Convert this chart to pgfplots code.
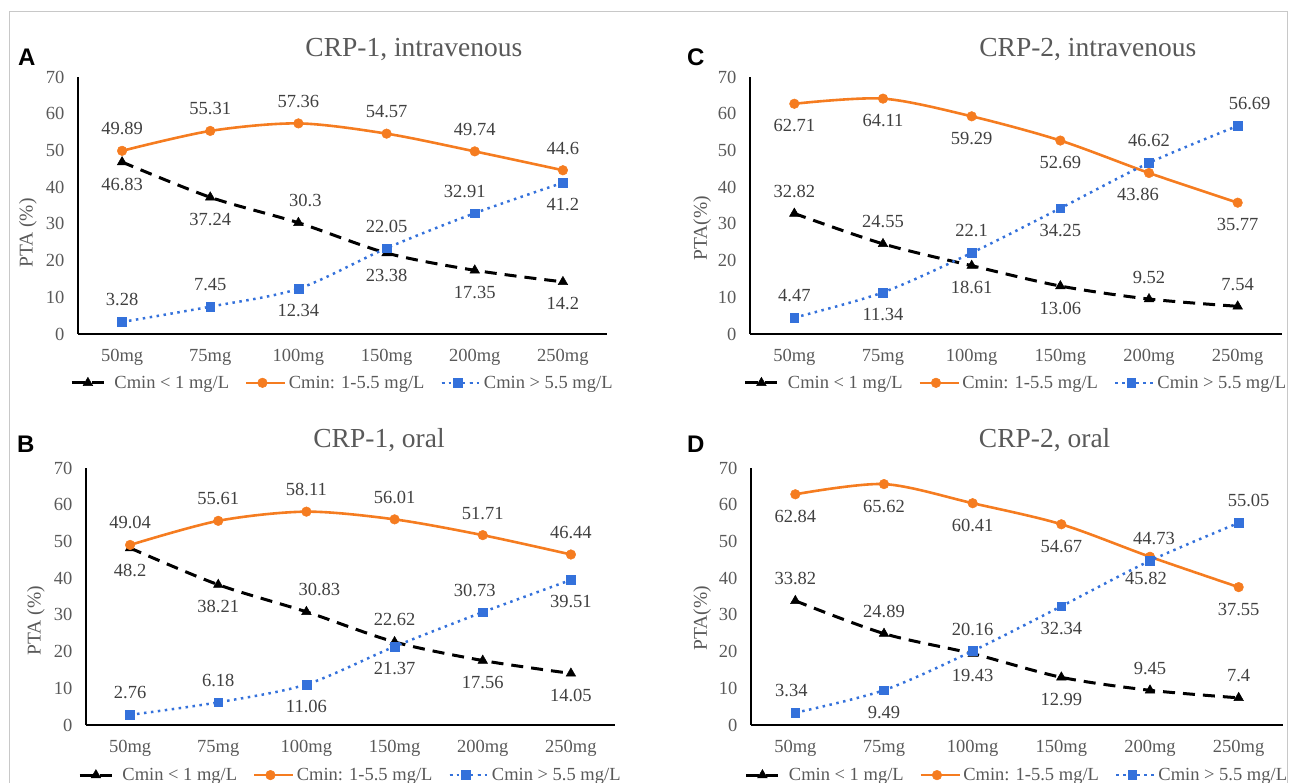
\documentclass[border=0pt]{standalone}
\usepackage{fontspec}
\setmainfont{Liberation Serif}
\newfontfamily\sansfam{Liberation Sans}
\newfontfamily\serfam{Liberation Serif}
\usepackage{pgfplots}
\pgfplotsset{compat=1.18}
\definecolor{myorange}{RGB}{245,124,32}
\definecolor{myblue}{RGB}{52,113,219}
\definecolor{txtgrey}{RGB}{89,89,89}
\definecolor{labgrey}{RGB}{64,64,64}
\definecolor{framegrey}{RGB}{200,200,200}
\pgfplotsset{
  panel/.style={
    scale only axis, width=529pt, height=257pt,
    xmin=-0.5, xmax=5.5, ymin=0, ymax=70,
    xtick={0,1,2,3,4,5},
    xticklabels={50mg,75mg,100mg,150mg,200mg,250mg},
    ytick={0,10,20,30,40,50,60,70},
    axis x line*=bottom, axis y line*=left,
    axis line style={black, line width=1.3pt, -},
    major tick length=0pt,
    tick label style={font=\serfam\fontsize{18.5}{20}\selectfont, text=txtgrey},
    /pgf/number format/assume math mode=true,
    yticklabel style={xshift=-10pt},
    xticklabel style={yshift=-12pt},
    ylabel style={font=\serfam\fontsize{19.5}{21}\selectfont, text=txtgrey, anchor=center},
    title style={font=\serfam\fontsize{27.5}{30}\selectfont, text=txtgrey, anchor=base},
    legend columns=3,
    legend style={draw=none, fill=none, font=\serfam\fontsize{18.5}{20}\selectfont,
      text=txtgrey, anchor=center,
      /tikz/every even column/.append style={column sep=14pt}},
    legend image code/.code={\draw[mark repeat=2,mark phase=2] plot coordinates {(0pt,0pt)(16pt,0pt)(32pt,0pt)};
      \path (0pt,0pt) -- (39pt,0pt);},
    clip=false,
  },
  sblack/.style={black, line width=3pt, dash pattern=on 12pt off 8pt, smooth,
    mark=triangle*, mark size=5.5pt, mark options={solid, fill=black, line width=0.5pt}},
  sorange/.style={myorange, line width=2.6pt, smooth,
    mark=*, mark size=4.8pt, mark options={solid, fill=myorange, draw=myorange, line width=0.5pt}},
  sblue/.style={myblue, line width=2.5pt, dash pattern=on 2.5pt off 4.5pt, smooth,
    mark=square*, mark size=4.4pt, mark options={solid, fill=myblue, draw=myblue, line width=0.5pt}},
}
\tikzset{datalab/.style={font=\serfam\fontsize{18.5}{20}\selectfont, text=labgrey, inner sep=0pt, anchor=center}}
\newcommand{\up}[3][0]{\node[datalab, xshift=#1pt, yshift=22pt] at (axis cs:#2) {#3};}
\newcommand{\dn}[3][0]{\node[datalab, xshift=#1pt, yshift=-22pt] at (axis cs:#2) {#3};}
\newcommand{\leg}{\legend{Cmin < 1 mg/L, Cmin: 1-5.5 mg/L, Cmin > 5.5 mg/L}}
\begin{document}
\begin{tikzpicture}
\useasboundingbox (0pt,0pt) rectangle (1296pt,-783pt);
\draw[framegrey, line width=1pt] (9pt,-790pt) -- (9pt,-11.5pt) -- (1287pt,-11.5pt) -- (1287pt,-790pt);
\tikzset{letter/.style={anchor=base west, inner sep=0pt, font=\sansfam\bfseries\fontsize{24}{26}\selectfont}}
\node[letter] at (18pt,-66pt) {A};
\node[letter] at (687pt,-66pt) {C};
\node[letter] at (17pt,-453pt) {B};
\node[letter] at (687pt,-453pt) {D};

% Panel A
\begin{axis}[panel, at={(78pt,-334pt)}, anchor=south west,
  title={CRP-1, intravenous}, title style={at={(axis description cs:0.635,1.0545)}},
  ylabel={PTA (\%)}, ylabel style={at={(axis description cs:-0.0945,0.393)}},
  legend style={at={(axis description cs:0.5,-0.19)}}]
\addplot[sblack] coordinates {(0,46.83)(1,37.24)(2,30.3)(3,22.05)(4,17.35)(5,14.2)};
\addplot[sorange] coordinates {(0,49.89)(1,55.31)(2,57.36)(3,54.57)(4,49.74)(5,44.6)};
\addplot[sblue] coordinates {(0,3.28)(1,7.45)(2,12.34)(3,23.38)(4,32.91)(5,41.2)};
\leg
\up{0,49.89}{49.89}\up{1,55.31}{55.31}\up{2,57.36}{57.36}\up{3,54.57}{54.57}\up{4,49.74}{49.74}\up{5,44.6}{44.6}
\dn{0,46.83}{46.83}\dn{1,37.24}{37.24}\up[7]{2,30.3}{30.3}\dn{4,17.35}{17.35}\dn{5,14.2}{14.2}
\up{3,23.38}{22.05}\dn{3,22.05}{23.38}
\up{0,3.28}{3.28}\up{1,7.45}{7.45}\dn{2,12.34}{12.34}\up[-10]{4,32.91}{32.91}\dn{5,41.2}{41.2}
\end{axis}

% Panel C
\begin{axis}[panel, at={(750pt,-334pt)}, anchor=south west, width=532pt,
  title={CRP-2, intravenous}, title style={at={(axis description cs:0.635,1.0545)}},
  ylabel={PTA(\%)}, ylabel style={at={(axis description cs:-0.090,0.412)}},
  legend style={at={(axis description cs:0.5,-0.19)}}]
\addplot[sblack] coordinates {(0,32.82)(1,24.55)(2,18.61)(3,13.06)(4,9.52)(5,7.54)};
\addplot[sorange] coordinates {(0,62.71)(1,64.11)(2,59.29)(3,52.69)(4,43.86)(5,35.77)};
\addplot[sblue] coordinates {(0,4.47)(1,11.34)(2,22.1)(3,34.25)(4,46.62)(5,56.69)};
\leg
\dn{0,62.71}{62.71}\dn{1,64.11}{64.11}\dn{2,59.29}{59.29}\dn{3,52.69}{52.69}\dn[-11]{4,43.86}{43.86}\dn{5,35.77}{35.77}
\up{0,32.82}{32.82}\up{1,24.55}{24.55}\dn{2,18.61}{18.61}\dn{3,13.06}{13.06}\up{4,9.52}{9.52}\up{5,7.54}{7.54}
\up{0,4.47}{4.47}\dn{1,11.34}{11.34}\up{2,22.1}{22.1}\dn{3,34.25}{34.25}\up{4,46.62}{46.62}\up[12]{5,56.69}{56.69}
\end{axis}

% Panel B
\begin{axis}[panel, at={(86pt,-725pt)}, anchor=south west,
  title={CRP-1, oral}, title style={at={(axis description cs:0.554,1.058)}},
  ylabel={PTA (\%)}, ylabel style={at={(axis description cs:-0.0945,0.405)}},
  legend style={at={(axis description cs:0.5,-0.195)}}]
\addplot[sblack] coordinates {(0,48.2)(1,38.21)(2,30.83)(3,22.62)(4,17.56)(5,14.05)};
\addplot[sorange] coordinates {(0,49.04)(1,55.61)(2,58.11)(3,56.01)(4,51.71)(5,46.44)};
\addplot[sblue] coordinates {(0,2.76)(1,6.18)(2,11.06)(3,21.37)(4,30.73)(5,39.51)};
\leg
\up{0,49.04}{49.04}\up{1,55.61}{55.61}\up{2,58.11}{58.11}\up{3,56.01}{56.01}\up{4,51.71}{51.71}\up{5,46.44}{46.44}
\dn{0,48.2}{48.2}\dn{1,38.21}{38.21}\up[13]{2,30.83}{30.83}\dn{4,17.56}{17.56}\dn{5,14.05}{14.05}
\up{3,22.62}{22.62}\dn{3,21.37}{21.37}
\up{0,2.76}{2.76}\up{1,6.18}{6.18}\dn{2,11.06}{11.06}\up[-8]{4,30.73}{30.73}\dn{5,39.51}{39.51}
\end{axis}

% Panel D
\begin{axis}[panel, at={(751pt,-725pt)}, anchor=south west, width=532pt,
  title={CRP-2, oral}, title style={at={(axis description cs:0.552,1.058)}},
  ylabel={PTA(\%)}, ylabel style={at={(axis description cs:-0.092,0.416)}},
  legend style={at={(axis description cs:0.5,-0.195)}}]
\addplot[sblack] coordinates {(0,33.82)(1,24.89)(2,19.43)(3,12.99)(4,9.45)(5,7.4)};
\addplot[sorange] coordinates {(0,62.84)(1,65.62)(2,60.41)(3,54.67)(4,45.82)(5,37.55)};
\addplot[sblue] coordinates {(0,3.34)(1,9.49)(2,20.16)(3,32.34)(4,44.73)(5,55.05)};
\leg
\dn{0,62.84}{62.84}\dn{1,65.62}{65.62}\dn{2,60.41}{60.41}\dn{3,54.67}{54.67}\dn[-4]{4,45.82}{45.82}\dn{5,37.55}{37.55}
\up{0,33.82}{33.82}\up{1,24.89}{24.89}\dn{2,19.43}{19.43}\dn{3,12.99}{12.99}\up{4,9.45}{9.45}\up{5,7.4}{7.4}
\up[-4]{0,3.34}{3.34}\dn{1,9.49}{9.49}\up{2,20.16}{20.16}\dn{3,32.34}{32.34}\up[4]{4,44.73}{44.73}\up[10]{5,55.05}{55.05}
\end{axis}
\end{tikzpicture}
\end{document}
